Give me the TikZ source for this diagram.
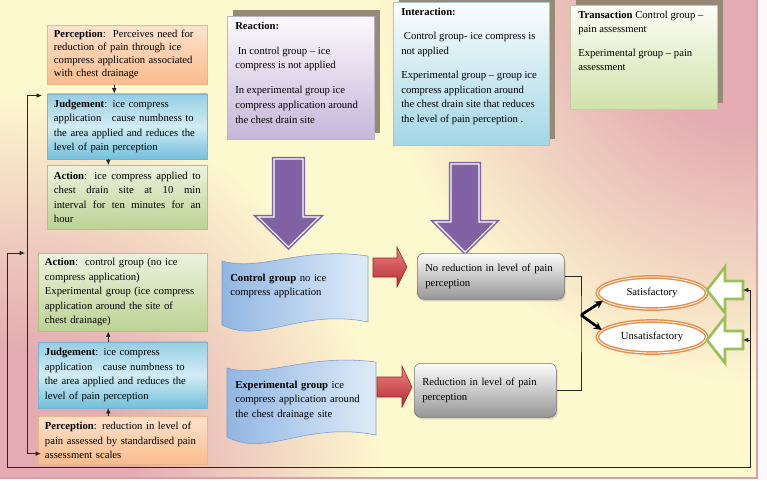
\documentclass[tikz,border=0pt]{standalone}
\usepackage{fontspec}
\setmainfont{Liberation Serif}
\usepackage{tikz}
\usetikzlibrary{arrows.meta, positioning, shapes.geometric, shadows}

\definecolor{bgyellow}{RGB}{253,249,207}
\definecolor{bgpink}{RGB}{228,172,178}
\definecolor{bgedge}{RGB}{214,160,165}
\definecolor{percA}{RGB}{253,226,205}
\definecolor{percB}{RGB}{249,188,140}
\definecolor{percline}{RGB}{238,180,140}
\definecolor{judA}{RGB}{150,205,228}
\definecolor{judM}{RGB}{210,236,244}
\definecolor{judB}{RGB}{115,192,220}
\definecolor{judline}{RGB}{120,180,205}
\definecolor{actA}{RGB}{236,242,222}
\definecolor{actB}{RGB}{188,210,148}
\definecolor{actline}{RGB}{170,195,130}
\definecolor{reacA}{RGB}{252,249,252}
\definecolor{reacB}{RGB}{198,182,218}
\definecolor{interA}{RGB}{250,253,253}
\definecolor{interB}{RGB}{164,214,230}
\definecolor{transA}{RGB}{253,253,246}
\definecolor{transB}{RGB}{208,226,170}
\definecolor{boxshade}{RGB}{150,138,118}
\definecolor{waveA}{RGB}{145,182,226}
\definecolor{waveB}{RGB}{222,235,248}
\definecolor{waveline}{RGB}{120,155,200}
\definecolor{redA}{RGB}{236,128,128}
\definecolor{redB}{RGB}{180,45,50}
\definecolor{grayA}{RGB}{252,252,252}
\definecolor{grayB}{RGB}{150,150,150}
\definecolor{ovalline}{RGB}{236,140,70}
\definecolor{greenline}{RGB}{155,192,88}
\definecolor{purpleA}{RGB}{128,98,162}
\colorlet{bgmix}{bgpink!50!bgyellow}

\pgfdeclareradialshading{cornerpink}{\pgfpoint{0bp}{0bp}}{color(0bp)=(bgpink); color(8.5bp)=(bgpink); color(17bp)=(bgmix); color(25bp)=(bgyellow); color(50bp)=(bgyellow)}

\newcommand{\jusline}[1]{\makebox[110pt][s]{\spaceskip=0pt\xspaceskip=0pt #1}}

\begin{document}
\begin{tikzpicture}[x=0.75pt, y=-0.75pt,
  font=\fontsize{8}{10.9}\selectfont,
  stage/.style={rectangle, anchor=north west, align=left, inner xsep=5pt, inner ysep=2pt},
  percbox/.style={stage, draw=percline, top color=percA, bottom color=percB},
  judbox/.style={stage, draw=judline, top color=judA, bottom color=judB, middle color=judM},
  actbox/.style={stage, draw=actline, top color=actA, bottom color=actB},
  topbox/.style={rectangle, anchor=north west, inner xsep=6pt, inner ysep=4pt, draw=#1B!80!black!70,
    top color=#1A, bottom color=#1B, drop shadow={shadow xshift=4.5pt, shadow yshift=4.5pt, fill=boxshade, opacity=1}},
  result/.style={rectangle, rounded corners=5pt, anchor=north west, align=left, inner xsep=6pt,
    draw=black!55, top color=grayA, bottom color=grayB, drop shadow={opacity=.3, shadow xshift=1pt, shadow yshift=-1.5pt}},
  wave/.style={draw=waveline, left color=waveA, right color=waveB},
  wavetext/.style={anchor=west, align=left, inner sep=0pt, text width=105pt},
  oval/.style={ellipse, draw=ovalline, double=white, double distance=0.6pt, line width=1.1pt, fill=white,
    minimum width=82pt, minimum height=24pt, inner sep=0pt},
  downarrow/.style={fill=purpleA, draw=purpleA, double=white, double distance=0.8pt, line width=1.2pt},
  redarrow/.style={top color=redA, bottom color=redB, draw=redB!80!black},
  greenarrow/.style={fill=white, draw=greenline, line width=2pt},
  link/.style={line width=0.6pt, black!85},
  tick/.style={link, -{Latex[length=4pt,width=3.5pt]}},
  forkarrow/.style={line width=2pt, -{Stealth[length=6pt,width=6pt]}}
]
\useasboundingbox (0,0) rectangle (767,480);
\fill[white!92!bgpink] (0,0) rectangle (767,480);
\begin{scope}
  \clip (0,0) rectangle (757,478);
  \fill[bgyellow] (0,0) rectangle (757,478);
  \shade[shading=cornerpink] (757,0) circle (290pt);
  \shade[shading=cornerpink] (0,478) circle (290pt);
\end{scope}
\draw[bgedge, line width=1pt] (757,0) -- (757,478) -- (0,478);

\node[percbox, minimum height=44.25pt, text width=110pt, font=\fontsize{8}{9.8}\selectfont] (perc1) at (47,25)
  {\textbf{Perception}:\ \ Perceives need for\\reduction of pain through ice\\compress application associated\\with chest drainage};
\node[judbox, minimum height=48.75pt, text width=110pt, below=6.75pt of perc1] (jud1)
  {\textbf{Judgement}: ice compress\\application\ \ \ cause numbness to\\the area applied and reduces the\\level of pain perception};
\node[actbox, minimum height=48pt, text width=110pt, below=4.5pt of jud1] (act1)
  {\jusline{\textbf{Action}: ice compress applied to}\\\jusline{chest drain site at 10 min}\\\jusline{interval for ten minutes for an}\\hour};

\node[actbox, minimum height=58.5pt, text width=116.75pt] (act2) at (38,253)
  {\textbf{Action}:\ \ control group (no ice\\compress application)\\Experimental group (ice compress\\application around the site of\\chest drainage)};
\node[judbox, minimum height=49.5pt, text width=116.75pt, below=7.5pt of act2] (jud2)
  {\textbf{Judgement}: ice compress\\application\ \ \ cause numbness to\\the area applied and reduces the\\level of pain perception};
\node[percbox, minimum height=36pt, text width=116.75pt, below=6pt of jud2] (perc2)
  {\textbf{Perception}: reduction in level of\\pain assessed by standardised pain\\assessment scales};

\draw[tick] ([shift={(-13,0)}]perc1.south) -- ([shift={(-13,0)}]jud1.north);
\draw[tick] ([shift={(-19,0)}]jud1.south) -- ([shift={(-19,0)}]act1.north);
\draw[tick] ([shift={(-14.5,0)}]jud2.north) -- ([shift={(-14.5,0)}]act2.south);
\draw[tick] ([shift={(-14.5,0)}]perc2.north) -- ([shift={(-14.5,0)}]jud2.south);

\node[topbox=reac] (reaction) at (227,16) {\parbox[t][84.25pt][t]{98.25pt}{\raggedright
  \textbf{Reaction:}\\[8pt]\hspace*{2pt}In control group -- ice\\compress is not applied\\[8pt]In experimental group ice\\compress application around\\the chest drain site}};
\node[topbox=inter] (interaction) at (393,2) {\parbox[t][99.25pt][t]{105pt}{\raggedright
  \textbf{Interaction:}\\[7.5pt]\hspace*{2pt}Control group- ice compress is\\not applied\\[7.5pt]Experimental group -- group ice\\compress application around\\the chest drain site that reduces\\the level of pain perception .}};
\node[topbox=trans] (transaction) at (570,5) {\parbox[t][70pt][t]{98.25pt}{\raggedright
  \textbf{Transaction} Control group --\\pain assessment\\[7pt]Experimental group -- pain\\assessment}};

\draw[downarrow] (274,159) -- (303,159) -- (303,217) -- (319,217) -- (288.5,247) -- (258,217) -- (274,217) -- cycle;
\draw[downarrow] (451,164) -- (479,164) -- (479,222) -- (495,222) -- (465,252) -- (435,222) -- (451,222) -- cycle;

\draw[wave] (222,261) .. controls (262,272) and (300,246) .. (368,256) -- (368,322)
  .. controls (300,308) and (262,345) .. (222,325) -- cycle;
\draw[wave] (227,368) .. controls (267,379) and (305,353) .. (376,362) -- (376,435)
  .. controls (305,421) and (267,458) .. (227,437) -- cycle;
\node[wavetext] (ctrl) at (230,286) {\textbf{Control group} no ice\\compress application};
\node[wavetext] (expt) at (235,400) {\textbf{Experimental group} ice\\compress application around\\the chest drainage site};

\draw[redarrow] (373,258) -- (397,258) -- (397,247) -- (407,267) -- (397,287) -- (397,277) -- (373,277) -- cycle;
\draw[redarrow] (377,377) -- (402,377) -- (402,366) -- (412,387) -- (402,407) -- (402,397) -- (377,397) -- cycle;

\node[result, minimum width=110.25pt, minimum height=34.5pt, text width=98.25pt] (nored) at (417,253)
  {No reduction in level of pain\\perception};
\node[result, minimum width=106.5pt, minimum height=40.5pt, text width=94.5pt] (redu) at (414,363)
  {Reduction in level of pain\\perception};

\node[oval] (sat) at (652,293) {Satisfactory};
\node[oval] (unsat) at (652,337) {Unsatisfactory};

\draw[greenarrow] (743,281) -- (743,299) -- (725,299) -- (725,313) -- (707,290) -- (725,267) -- (725,281) -- cycle;
\draw[greenarrow] (743,331) -- (743,349) -- (725,349) -- (725,363) -- (707,340) -- (725,317) -- (725,331) -- cycle;
\coordinate (gsat) at (743,290);
\coordinate (gunsat) at (743,340);

\coordinate (fork) at (581,315);
\draw[link] (nored.east) -| (fork) |- (redu.east);
\draw[forkarrow] (fork) -- (sat.189);
\draw[forkarrow] (fork) -- (unsat.172);

\draw[link, {Latex[length=4pt,width=3.5pt]}-{Latex[length=4pt,width=3.5pt]}]
  ([shift={(-5,2)}]jud1.north west) -| ([shift={(-11,-11)}]perc2.south west) -- ([shift={(3,-11)}]perc2.south west);
\coordinate (railSW) at (7,467);
\coordinate (railSE) at (750,467);
\draw[link, {Latex[length=4pt,width=3.5pt]}-{Latex[length=4pt,width=3.5pt]}]
  ([shift={(-13,0)}]act2.north west) -| (railSW) -- (railSE) |- (gsat);
\draw[tick] (railSE |- gunsat) -- (gunsat);
\end{tikzpicture}
\end{document}
